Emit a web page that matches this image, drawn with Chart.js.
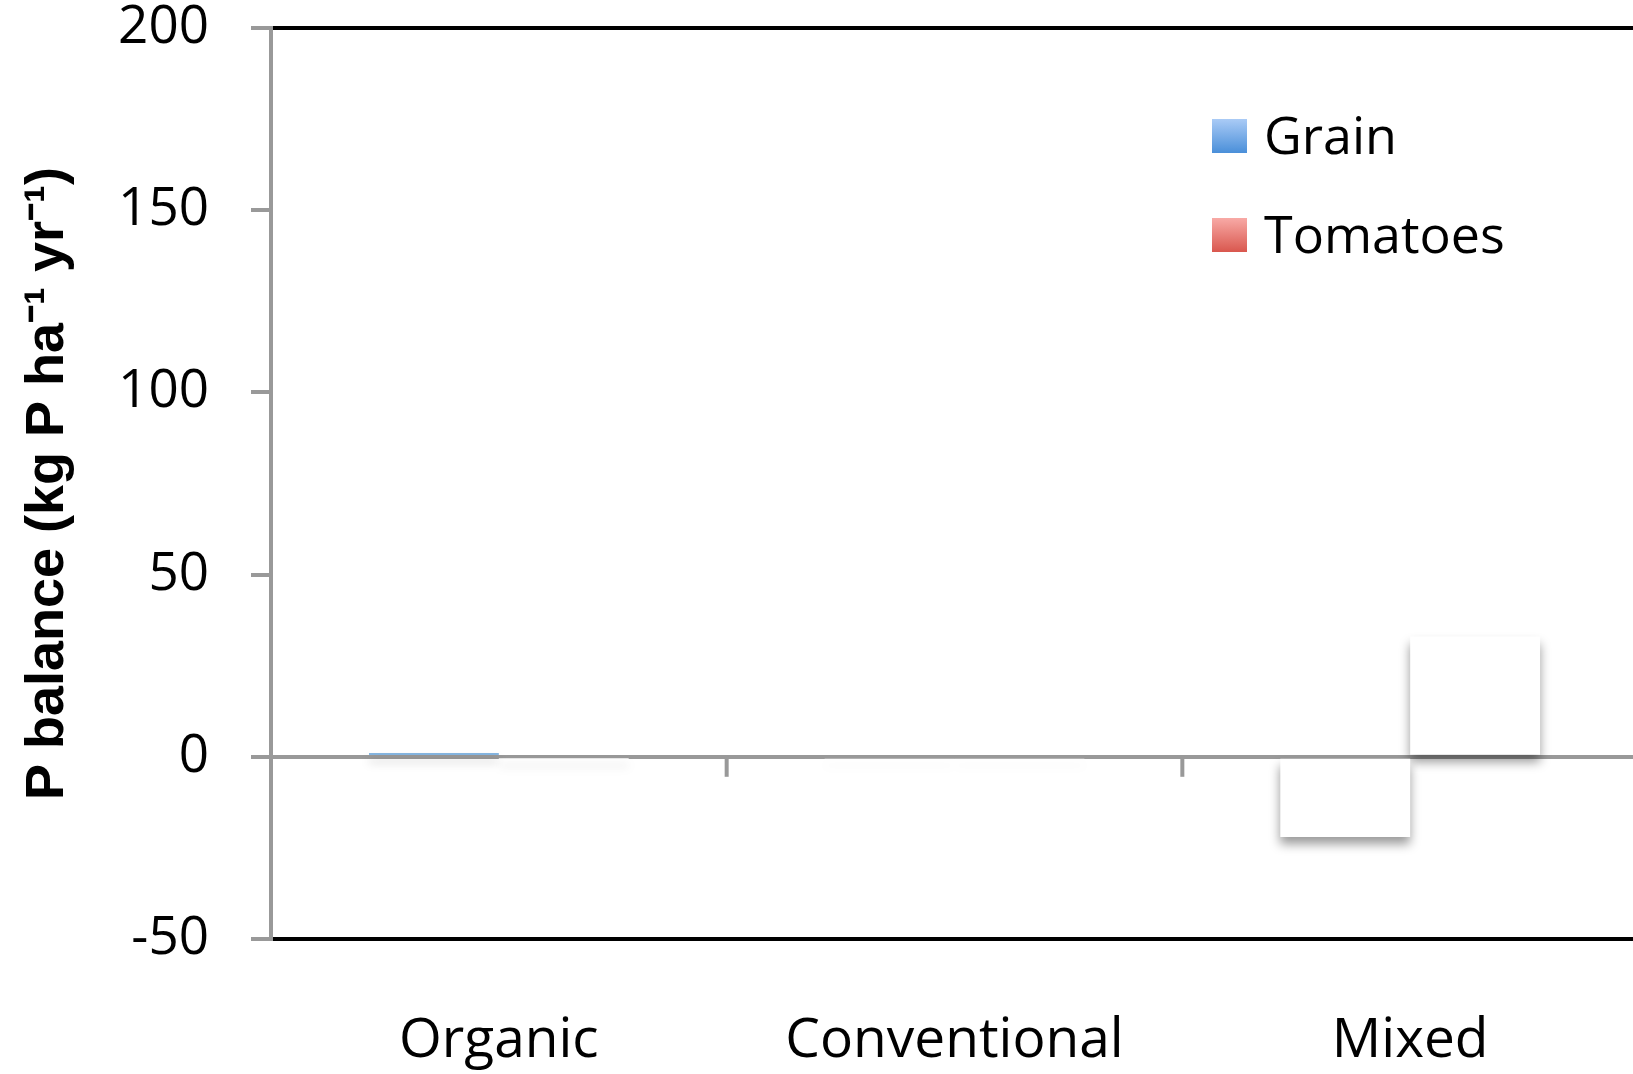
<!DOCTYPE html>
<html>
<head>
<meta charset="utf-8">
<script src="https://cdn.jsdelivr.net/npm/chart.js@4"></script>
<style>
  html, body { margin: 0; padding: 0; background: #fff; overflow: hidden; }
  canvas { display: block; }
</style>
</head>
<body>
<canvas id="chart" width="1640" height="1074"></canvas>
<script>
const categories = ["Organic", "Conventional", "Mixed"];
const grainValues = [1, -0.5, -22];
const tomatoValues = [-0.3, -0.5, 33];
const seriesNames = ["Grain", "Tomatoes"];
const yTitle = "P balance (kg P ha\u207B\u00B9 yr\u207B\u00B9)";

// bar fills: only the organic grain bar shows colour, the others are white in the original
const grainFill = ["#5b9bd5", "#ffffff", "#ffffff"];
const tomatoFill = ["#ffffff", "#ffffff", "#ffffff"];
const legendColors = [["#aacbf6", "#4a8fd9"], ["#f8aaa6", "#d9574e"]];

const shadowPlugin = {
    id: "barShadow",
    beforeDatasetsDraw(chart) {
        const c = chart.ctx;
        c.save();
        c.shadowColor = "rgba(0,0,0,0.4)";
        c.shadowBlur = 10;
        c.shadowOffsetY = 7;
    },
    afterDatasetsDraw(chart) {
        chart.ctx.restore();
    }
};

// small tick marks on the zero line between the categories
const zeroTicks = {
    id: "zeroTicks",
    beforeDatasetsDraw(chart) {
        const x = chart.scales.x, y = chart.scales.y;
        const y0 = y.getPixelForValue(0);
        const c = chart.ctx;
        c.save();
        c.strokeStyle = "#999";
        c.lineWidth = 4;
        for (let i = 0; i < categories.length - 1; i++) {
            const px = (x.getPixelForValue(i) + x.getPixelForValue(i + 1)) / 2;
            c.beginPath();
            c.moveTo(px, y0);
            c.lineTo(px, y0 + 20);
            c.stroke();
        }
        c.restore();
    }
};

const legendPlugin = {
    id: "boxLegend",
    afterDraw(chart) {
        const c = chart.ctx;
        const area = chart.chartArea;
        const x0 = area.left + 941;
        chart.data.datasets.forEach((ds, i) => {
            const top = 119 + i * 99;
            const g = c.createLinearGradient(0, top, 0, top + 34);
            g.addColorStop(0, legendColors[i][0]);
            g.addColorStop(1, legendColors[i][1]);
            c.save();
            c.fillStyle = g;
            c.fillRect(x0, top, 35, 34);
            c.fillStyle = "#000";
            c.font = "52px 'Open Sans'";
            c.textBaseline = "middle";
            c.fillText(ds.label, x0 + 52, top + 20);
            c.restore();
        });
    }
};

const ctx = document.getElementById("chart").getContext("2d");

new Chart(ctx, {
    type: "bar",
    data: {
        labels: categories,
        datasets: [
            { label: seriesNames[0], data: grainValues, backgroundColor: grainFill },
            { label: seriesNames[1], data: tomatoValues, backgroundColor: tomatoFill }
        ]
    },
    options: {
        responsive: false,
        animation: false,
        categoryPercentage: 0.57,
        barPercentage: 1,
        layout: { padding: { top: 28, right: 2, bottom: 0, left: 0 } },
        plugins: {
            legend: { display: false },
            tooltip: { enabled: false }
        },
        scales: {
            y: {
                min: -50,
                max: 200,
                ticks: {
                    stepSize: 50,
                    color: "#000",
                    padding: 42,
                    font: { family: "'Open Sans'", size: 53, lineHeight: 1 }
                },
                grid: {
                    color: c => (c.tick.value === 200 || c.tick.value === -50) ? "#000" : (c.tick.value === 0 ? "#999" : "rgba(0,0,0,0)"),
                    tickColor: "#999",
                    lineWidth: 4,
                    tickWidth: 4,
                    tickLength: 20
                },
                border: { color: "#999", width: 4 },
                title: {
                    display: true,
                    text: yTitle,
                    color: "#000",
                    padding: { top: 16, bottom: 0 },
                    font: { family: "'Liberation Sans Narrow', 'Liberation Sans'", size: 54, weight: "bold" }
                },
                afterFit(scale) {
                    scale.width = 271;
                    scale.paddingTop = 26;
                    scale.paddingBottom = 26;
                }
            },
            x: {
                grid: { display: false, drawTicks: false },
                border: { display: false },
                ticks: {
                    color: "#000",
                    padding: 69,
                    font: { family: "'Open Sans'", size: 55 }
                },
                afterFit(scale) { scale.height = 135; }
            }
        }
    },
    plugins: [zeroTicks, shadowPlugin, legendPlugin]
});
</script>
</body>
</html>
